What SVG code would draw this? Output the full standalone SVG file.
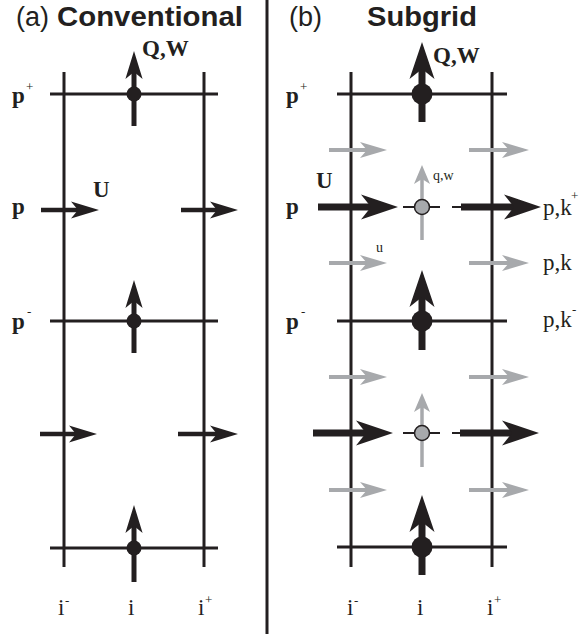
<svg xmlns="http://www.w3.org/2000/svg" xmlns:xlink="http://www.w3.org/1999/xlink" width="580" height="637" viewBox="0 0 580 637">
  <style>
    .grid { stroke: #231f20; stroke-width: 3; fill: none; }
    .shaft { stroke: #231f20; fill: none; }
    .gshaft { stroke: #a7a9ac; fill: none; }
    .thin { stroke: #231f20; stroke-width: 2; }
    .title { font-family: "Liberation Sans", Arial, sans-serif; font-size: 27px; fill: #231f20; }
    .bold { font-weight: bold; }
    .lbl { font-family: "Liberation Serif", "Times New Roman", serif; font-size: 23px; fill: #231f20; }
    .lblb { font-family: "Liberation Serif", "Times New Roman", serif; font-size: 23px; font-weight: bold; fill: #231f20; }
    .sup { font-family: "Liberation Serif", "Times New Roman", serif; font-size: 13px; fill: #231f20; }
    .small { font-family: "Liberation Serif", "Times New Roman", serif; font-size: 14px; fill: #231f20; }
  </style>
  <defs>
    <!-- barbed arrowheads, tip at origin, pointing +x -->
    <path id="headS" d="M0,0 L-28,-8.6 L-21,0 L-28,8.6 Z" fill="#231f20"/>
    <path id="headL" d="M0,0 L-37,-12.5 L-27,0 L-37,12.5 Z" fill="#231f20"/>
    <path id="headG" d="M0,0 L-27,-8 L-20,0 L-27,8 Z" fill="#a7a9ac"/>
    <path id="headGv" d="M0,0 L-19,-8 L-14,0 L-19,8 Z" fill="#a7a9ac"/>
  </defs>

  <rect width="580" height="637" fill="#ffffff"/>

  <!-- titles -->
  <text class="title" x="16" y="26">(a)</text>
  <text class="title bold" x="57" y="26" textLength="186" lengthAdjust="spacingAndGlyphs">Conventional</text>
  <text class="title" x="289" y="26">(b)</text>
  <text class="title bold" x="367" y="26" textLength="110" lengthAdjust="spacingAndGlyphs">Subgrid</text>

  <!-- panel divider -->
  <line x1="267" y1="0" x2="267" y2="634" class="grid"/>

  <!-- panel (a): grid -->
  <g id="grid-a">
    <line class="grid" x1="64" y1="72" x2="64" y2="567"/>
    <line class="grid" x1="204" y1="72" x2="204" y2="567"/>
    <line class="grid" x1="50" y1="94" x2="218" y2="94"/>
    <line class="grid" x1="50" y1="321" x2="218" y2="321"/>
    <line class="grid" x1="50" y1="548" x2="218" y2="548"/>
  </g>

  <!-- panel (b): grid -->
  <g id="grid-b">
    <line class="grid" x1="351" y1="72" x2="351" y2="567"/>
    <line class="grid" x1="492" y1="72" x2="492" y2="567"/>
    <line class="grid" x1="337" y1="94" x2="507" y2="94"/>
    <line class="grid" x1="337" y1="321" x2="507" y2="321"/>
    <line class="grid" x1="337" y1="547" x2="507" y2="547"/>
  </g>

  <g id="connectors">
    <!-- panel (a): vertical fluxes -->
    <line class="shaft" stroke-width="5" x1="134" y1="126" x2="134" y2="70"/>
    <use xlink:href="#headS" transform="translate(134,51) rotate(-90)"/>
    <line class="shaft" stroke-width="5" x1="134" y1="353" x2="134" y2="299"/>
    <use xlink:href="#headS" transform="translate(134,280) rotate(-90)"/>
    <line class="shaft" stroke-width="5" x1="134" y1="582" x2="134" y2="524"/>
    <use xlink:href="#headS" transform="translate(134,505) rotate(-90)"/>
    <!-- panel (a): horizontal velocities -->
    <line class="shaft" stroke-width="4.5" x1="41" y1="210" x2="80" y2="210"/>
    <use xlink:href="#headS" transform="translate(99,210)"/>
    <line class="shaft" stroke-width="4.5" x1="181" y1="210" x2="219" y2="210"/>
    <use xlink:href="#headS" transform="translate(238,210)"/>
    <line class="shaft" stroke-width="4.5" x1="40" y1="434" x2="78" y2="434"/>
    <use xlink:href="#headS" transform="translate(97,434)"/>
    <line class="shaft" stroke-width="4.5" x1="178" y1="434" x2="219" y2="434"/>
    <use xlink:href="#headS" transform="translate(238,434)"/>

    <!-- panel (b): gray subgrid velocities -->
    <line class="gshaft" stroke-width="4" x1="329" y1="150" x2="368" y2="150"/>
    <use xlink:href="#headG" transform="translate(387,150)"/>
    <line class="gshaft" stroke-width="4" x1="469" y1="150" x2="510" y2="150"/>
    <use xlink:href="#headG" transform="translate(529,150)"/>
    <line class="gshaft" stroke-width="4" x1="329" y1="263" x2="368" y2="263"/>
    <use xlink:href="#headG" transform="translate(387,263)"/>
    <line class="gshaft" stroke-width="4" x1="469" y1="263" x2="510" y2="263"/>
    <use xlink:href="#headG" transform="translate(529,263)"/>
    <line class="gshaft" stroke-width="4" x1="329" y1="377" x2="368" y2="377"/>
    <use xlink:href="#headG" transform="translate(387,377)"/>
    <line class="gshaft" stroke-width="4" x1="469" y1="377" x2="510" y2="377"/>
    <use xlink:href="#headG" transform="translate(529,377)"/>
    <line class="gshaft" stroke-width="4" x1="329" y1="490" x2="368" y2="490"/>
    <use xlink:href="#headG" transform="translate(387,490)"/>
    <line class="gshaft" stroke-width="4" x1="469" y1="490" x2="510" y2="490"/>
    <use xlink:href="#headG" transform="translate(529,490)"/>

    <!-- panel (b): gray subgrid vertical fluxes -->
    <line class="gshaft" stroke-width="3.5" x1="422" y1="240" x2="422" y2="178"/>
    <use xlink:href="#headGv" transform="translate(422,165) rotate(-90)"/>
    <line class="gshaft" stroke-width="3.5" x1="422" y1="467" x2="422" y2="406"/>
    <use xlink:href="#headGv" transform="translate(422,393) rotate(-90)"/>

    <!-- panel (b): thin ties through subgrid points -->
    <line class="thin" x1="403" y1="207" x2="440" y2="207"/>
    <line class="thin" x1="452" y1="207" x2="462" y2="207"/>
    <line class="thin" x1="403" y1="433" x2="440" y2="433"/>
    <line class="thin" x1="452" y1="433" x2="461" y2="433"/>

    <!-- panel (b): black grid-scale velocities -->
    <line class="shaft" stroke-width="7" x1="318" y1="207" x2="374" y2="207"/>
    <use xlink:href="#headL" transform="translate(398,207)"/>
    <line class="shaft" stroke-width="7" x1="461" y1="207" x2="516" y2="207"/>
    <use xlink:href="#headL" transform="translate(541,207)"/>
    <line class="shaft" stroke-width="7" x1="313" y1="433" x2="369" y2="433"/>
    <use xlink:href="#headL" transform="translate(393,433)"/>
    <line class="shaft" stroke-width="7" x1="460" y1="433" x2="515" y2="433"/>
    <use xlink:href="#headL" transform="translate(539,433)"/>

    <!-- panel (b): black vertical fluxes -->
    <line class="shaft" stroke-width="7" x1="422" y1="122" x2="422" y2="66"/>
    <use xlink:href="#headL" transform="translate(422,42) rotate(-90)"/>
    <line class="shaft" stroke-width="7" x1="422" y1="350" x2="422" y2="294"/>
    <use xlink:href="#headL" transform="translate(422,270) rotate(-90)"/>
    <line class="shaft" stroke-width="7" x1="422" y1="575" x2="422" y2="519"/>
    <use xlink:href="#headL" transform="translate(422,495) rotate(-90)"/>
  </g>

  <!-- grid points -->
  <g id="node-a-top"><circle cx="134" cy="94" r="7.5" fill="#231f20"/></g>
  <g id="node-a-mid"><circle cx="134" cy="321" r="7.5" fill="#231f20"/></g>
  <g id="node-a-bot"><circle cx="134" cy="548" r="7.5" fill="#231f20"/></g>
  <g id="node-b-top"><circle cx="422" cy="94" r="10.5" fill="#231f20"/></g>
  <g id="node-b-mid"><circle cx="422" cy="321" r="10.5" fill="#231f20"/></g>
  <g id="node-b-bot"><circle cx="422" cy="547" r="10.5" fill="#231f20"/></g>
  <g id="node-b-sub1"><circle cx="422" cy="207" r="7.5" fill="#a7a9ac" stroke="#231f20" stroke-width="1.5"/></g>
  <g id="node-b-sub2"><circle cx="422" cy="433" r="7.5" fill="#a7a9ac" stroke="#231f20" stroke-width="1.5"/></g>

  <!-- panel (a) labels -->
  <g id="labels-a">
    <text class="lblb" x="142" y="56">Q,W</text>
    <text class="lblb" x="93" y="197" font-size="21">U</text>
    <text class="lblb" x="12" y="103" font-size="24">p</text><text class="sup" x="26" y="91">+</text>
    <text class="lblb" x="12" y="214" font-size="24">p</text>
    <text class="lblb" x="12" y="329" font-size="24">p</text><text class="sup" x="27" y="316">-</text>
    <text class="lbl" x="58" y="615">i</text><text class="sup" x="65" y="605">-</text>
    <text class="lbl" x="128" y="615">i</text>
    <text class="lbl" x="198" y="615">i</text><text class="sup" x="205" y="604">+</text>
  </g>

  <!-- panel (b) labels -->
  <g id="labels-b">
    <text class="lblb" x="433" y="63">Q,W</text>
    <text class="lblb" x="316" y="188" font-size="21">U</text>
    <text class="small" x="433" y="180">q,w</text>
    <text class="small" x="376" y="252">u</text>
    <text class="lblb" x="286" y="103" font-size="24">p</text><text class="sup" x="300" y="91">+</text>
    <text class="lblb" x="286" y="214" font-size="24">p</text>
    <text class="lblb" x="286" y="329" font-size="24">p</text><text class="sup" x="301" y="316">-</text>
    <text class="lbl" x="543" y="215">p,k</text><text class="sup" x="571" y="200">+</text>
    <text class="lbl" x="543" y="270">p,k</text>
    <text class="lbl" x="543" y="327">p,k</text><text class="sup" x="572" y="314">-</text>
    <text class="lbl" x="347" y="615">i</text><text class="sup" x="354" y="605">-</text>
    <text class="lbl" x="417" y="615">i</text>
    <text class="lbl" x="487" y="615">i</text><text class="sup" x="494" y="604">+</text>
  </g>
</svg>
